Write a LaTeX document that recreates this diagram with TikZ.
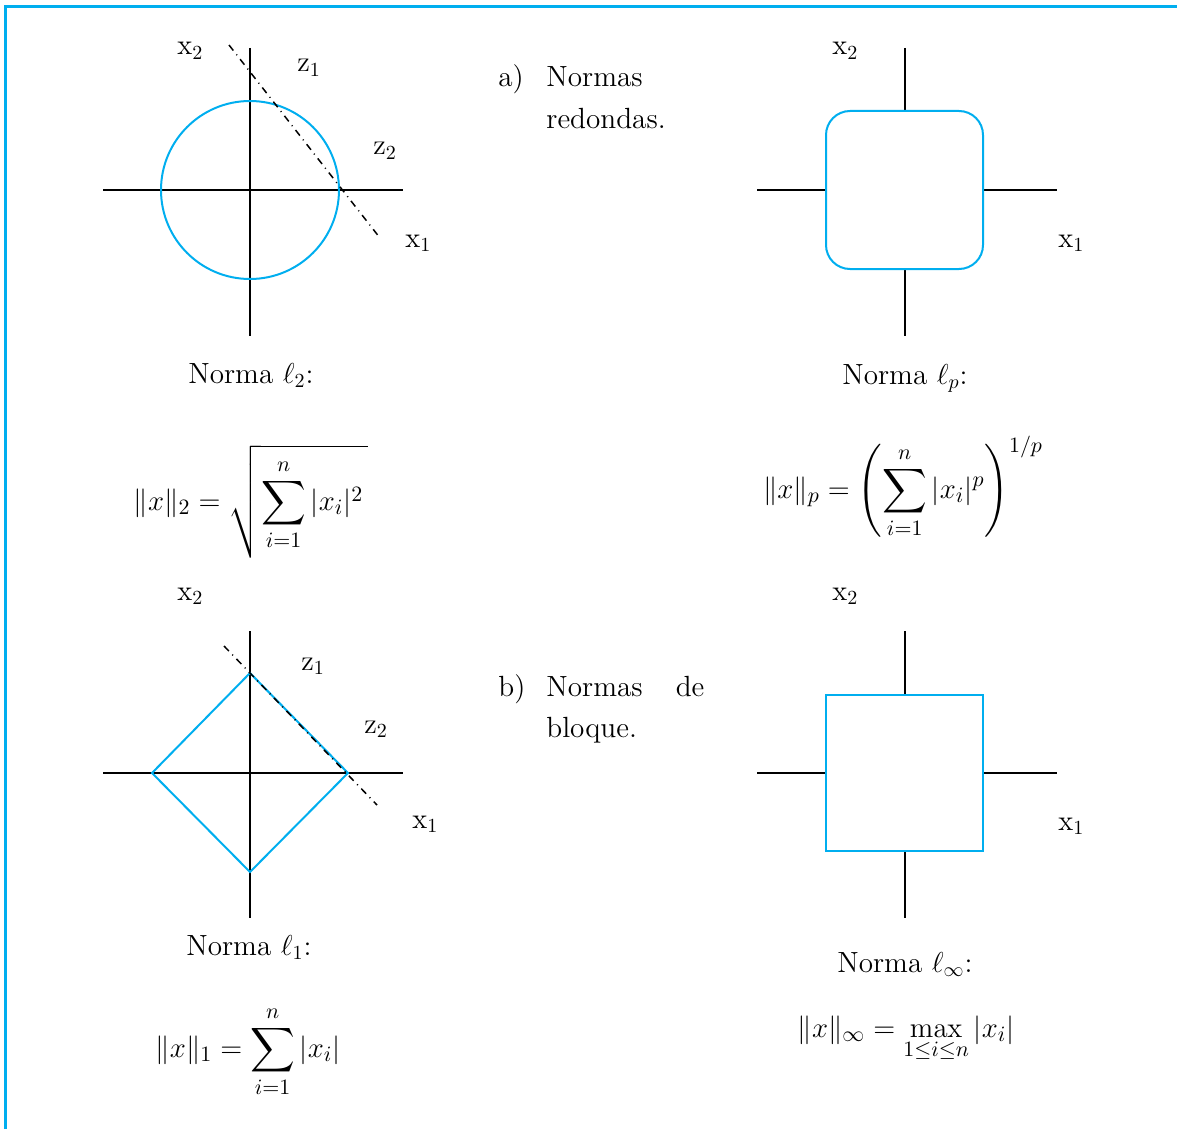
\documentclass[tikz,border=0pt]{standalone}
\usepackage{amsmath, amssymb}
\usepackage{tikz}
\usetikzlibrary{calc}
\definecolor{azul}{HTML}{00AEEF}

\begin{document}
\begin{tikzpicture}[
    x=0.5pt, y=-0.5pt,
    every node/.style={font=\fontsize{14.6}{20}\selectfont, inner sep=0pt},
    eje/.style={line width=1pt},
    forma/.style={azul, line width=1pt},
    guia/.style={line width=0.75pt, dash pattern=on 3.5pt off 2.5pt on 0.5pt off 2.5pt},
    etiq/.style={anchor=base west},
    formula/.style={anchor=base, font=\fontsize{15.5}{20}\selectfont},
  ]
  \useasboundingbox (0,0) rectangle (1177,1129);
  % Marco
  \draw[azul, line width=1.5pt] (5.5,1129) -- (5.5,6.5) -- (1177,6.5);

  % a) Norma l2 (circulo)
  \draw[eje] (103,190) -- (403,190);
  \draw[eje] (250,48) -- (250,336);
  \draw[forma] (250,190) circle[radius=44.5pt];
  \draw[guia] (229,45) -- (380,238);
  \node[etiq] (x2a) at (177,55) {$\mathrm{x}_2$};
  \node[etiq] (z1a) at (297,72) {$\mathrm{z}_1$};
  \node[etiq] (z2a) at (373,155) {$\mathrm{z}_2$};
  \node[etiq] (x1a) at (405,247) {$\mathrm{x}_1$};

  % Norma lp (cuadrado redondeado)
  \draw[eje] (757,190) -- (1057,190);
  \draw[eje] (905,48) -- (905,336);
  \draw[forma, fill=white, rounded corners=12pt] (826,111) rectangle (983,269);
  \node[etiq] (x2b) at (832,55) {$\mathrm{x}_2$};
  \node[etiq] (x1b) at (1058,247) {$\mathrm{x}_1$};

  % b) Norma l1 (rombo)
  \draw[eje] (103,773) -- (403,773);
  \draw[eje] (250,631) -- (250,918);
  \draw[forma] (152,773) -- (250,673) -- (348,773) -- (250,872) -- cycle;
  \draw[guia] (224,646) -- (377,805);
  \node[etiq] (x2c) at (177,600) {$\mathrm{x}_2$};
  \node[etiq] (z1c) at (301,670) {$\mathrm{z}_1$};
  \node[etiq] (z2c) at (364,733) {$\mathrm{z}_2$};
  \node[etiq] (x1c) at (412,828) {$\mathrm{x}_1$};

  % Norma l-infinito (cuadrado)
  \draw[eje] (757,773) -- (1057,773);
  \draw[eje] (905,631) -- (905,918);
  \draw[forma, fill=white] (826,695) rectangle (983,851);
  \node[etiq] (x2d) at (832,600) {$\mathrm{x}_2$};
  \node[etiq] (x1d) at (1058,830) {$\mathrm{x}_1$};

  % Textos del centro
  \node[etiq] (a) at (498,87) {a)};
  \node[etiq] (aN) at (546,87) {Normas};
  \node[etiq] (aR) at (546,128) {redondas.};
  \node[etiq] (b) at (498,696) {b)};
  \node[etiq] (bN) at (546,696) {\makebox[79pt][s]{Normas de}};
  \node[etiq] (bB) at (546,737) {bloque.};

  % Nombres y formulas
  \node[anchor=base] (n2) at (251,383) {Norma $\ell_2$:};
  \node[anchor=base] (np) at (905,384) {Norma $\ell_p$:};
  \node[anchor=base] (n1) at (249,955) {Norma $\ell_1$:};
  \node[anchor=base] (ni) at (905,972) {Norma $\ell_\infty$:};
  \node[formula] (f2) at (251,510)
    {$\displaystyle \|x\|_2 = \sqrt{\sum_{i=1}^{n} |x_i|^2\,}$};
  \node[formula] (fp) at (903,498)
    {$\displaystyle \|x\|_p = \left(\sum_{i=1}^{n} |x_i|^p\right)^{1/p}$};
  \node[formula] (f1) at (248,1057)
    {$\displaystyle \|x\|_1 = \sum_{i=1}^{n} |x_i|$};
  \node[formula] (fi) at (906,1037)
    {$\displaystyle \|x\|_\infty = \max_{1\le i\le n} |x_i|$};
\end{tikzpicture}
\end{document}
